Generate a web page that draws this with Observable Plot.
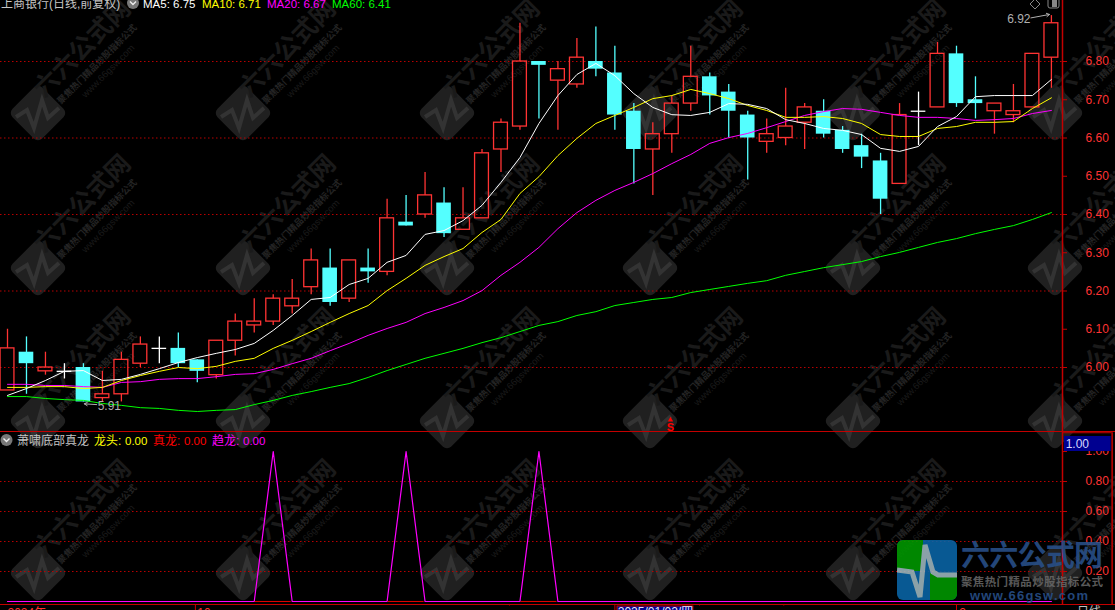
<!DOCTYPE html>
<html lang="zh">
<head>
<meta charset="utf-8">
<title>K线图</title>
<script src="https://cdn.jsdelivr.net/npm/d3@7"></script>
<script src="https://cdn.jsdelivr.net/npm/@observablehq/plot@0.6"></script>
<style>
html,body{margin:0;padding:0;background:#000;overflow:hidden}
#stage{position:relative;width:1115px;height:610px;overflow:hidden;background:#000}
#stage svg{position:absolute;left:0;font-family:"Liberation Sans","Noto Sans CJK SC",sans-serif}
#stage svg.plot{shape-rendering:crispEdges;background:transparent}
</style>
</head>
<body>
<div id="stage"></div>
<script>
// ---- Daily bars, oldest first ----
const opens  = [5.94,6.04,5.99,5.99,6.00,5.92,5.93,6.01,6.05,6.05,6.02,5.98,6.07,6.11,6.12,6.16,6.21,6.26,6.18,6.26,6.25,6.38,6.40,6.43,6.36,6.39,6.57,6.63,6.80,6.75,6.74,6.80,6.77,6.67,6.57,6.61,6.69,6.76,6.72,6.66,6.59,6.60,6.64,6.67,6.62,6.58,6.54,6.48,6.67,6.68,6.82,6.70,6.67,6.66,6.68,6.81];
const closes = [6.05,6.01,6.00,5.99,5.91,5.93,6.02,6.06,6.05,6.01,5.99,6.07,6.12,6.12,6.18,6.18,6.28,6.17,6.28,6.25,6.39,6.37,6.45,6.35,6.39,6.56,6.64,6.80,6.79,6.78,6.81,6.78,6.66,6.57,6.61,6.69,6.76,6.71,6.67,6.60,6.61,6.63,6.68,6.61,6.57,6.55,6.44,6.66,6.67,6.82,6.69,6.69,6.69,6.67,6.82,6.90];
const highs  = [6.10,6.08,6.04,6.01,6.01,5.99,6.04,6.08,6.08,6.09,6.02,6.07,6.14,6.18,6.19,6.23,6.31,6.31,6.28,6.31,6.44,6.45,6.51,6.47,6.47,6.57,6.65,6.90,6.80,6.80,6.86,6.89,6.84,6.69,6.64,6.71,6.84,6.77,6.74,6.67,6.65,6.73,6.69,6.70,6.63,6.61,6.56,6.69,6.72,6.85,6.84,6.76,6.69,6.74,6.82,6.92];
const lows   = [5.94,5.93,5.98,5.97,5.91,5.91,5.91,6.00,6.01,6.00,5.96,5.97,6.03,6.09,6.11,6.14,6.19,6.16,6.17,6.22,6.24,6.37,6.39,6.34,6.36,6.39,6.51,6.62,6.65,6.62,6.73,6.76,6.62,6.48,6.45,6.56,6.67,6.66,6.60,6.49,6.56,6.58,6.57,6.60,6.56,6.52,6.40,6.48,6.58,6.68,6.68,6.65,6.61,6.64,6.68,6.73];

// ---- Moving averages ----
const ma5  = [5.927,5.945,5.966,5.990,5.992,5.966,5.969,5.982,5.997,6.013,6.026,6.037,6.047,6.063,6.097,6.136,6.178,6.183,6.217,6.233,6.275,6.293,6.348,6.358,6.384,6.424,6.484,6.549,6.638,6.711,6.766,6.795,6.763,6.716,6.680,6.661,6.659,6.667,6.690,6.688,6.677,6.648,6.638,6.625,6.620,6.609,6.573,6.565,6.578,6.630,6.656,6.708,6.711,6.711,6.711,6.753];
const ma10 = [5.948,5.948,5.950,5.950,5.945,5.948,5.966,5.979,5.990,6.000,5.997,6.003,6.016,6.024,6.050,6.071,6.094,6.118,6.141,6.162,6.201,6.233,6.267,6.290,6.311,6.353,6.387,6.455,6.499,6.554,6.599,6.638,6.659,6.680,6.703,6.711,6.727,6.716,6.703,6.685,6.672,6.654,6.654,6.656,6.651,6.638,6.609,6.604,6.604,6.625,6.630,6.641,6.641,6.643,6.677,6.705];
const ma20 = [5.956,5.956,5.953,5.953,5.950,5.948,5.961,5.963,5.969,5.971,5.971,5.976,5.982,5.984,5.995,6.010,6.024,6.044,6.063,6.084,6.102,6.118,6.141,6.157,6.175,6.201,6.241,6.275,6.314,6.363,6.405,6.437,6.463,6.484,6.507,6.533,6.557,6.586,6.601,6.612,6.627,6.643,6.659,6.669,6.677,6.675,6.667,6.659,6.654,6.654,6.651,6.646,6.648,6.651,6.664,6.672];
const ma60 = [5.924,5.924,5.919,5.916,5.914,5.906,5.901,5.895,5.893,5.888,5.885,5.888,5.890,5.903,5.914,5.927,5.937,5.948,5.958,5.974,5.992,6.008,6.024,6.037,6.050,6.065,6.078,6.094,6.110,6.120,6.136,6.146,6.162,6.170,6.178,6.183,6.196,6.204,6.212,6.220,6.227,6.241,6.251,6.261,6.269,6.277,6.290,6.301,6.314,6.327,6.337,6.350,6.361,6.371,6.387,6.405];

// ---- Indicator (0/1 signal) ----
const signal = [0,0,0,0,0,0,0,0,0,0,0,0,0,0,1,0,0,0,0,0,0,1,0,0,0,0,0,0,1,0,0,0,0,0,0,0,0,0,0,0,0,0,0,0,0,0,0,0,0,0,0,0,0,0,0,0];
const signalBars = [14,21,28];

// ---- Axis and text ----
const priceTicks = [6.0,6.1,6.2,6.3,6.4,6.5,6.6,6.7,6.8];
const priceGrid  = [6.0,6.2,6.4,6.6,6.8];
const indTicks   = [0.2,0.4,0.6,0.8,1.0];
const indGrid    = [0.2,0.4,0.6,0.8];
const maLegend = [["MA5: 6.75","#ffffff",143],["MA10: 6.71","#ffff00",202],["MA20: 6.67","#ff00ff",267],["MA60: 6.41","#00ff00",332]];
const indLegend = [["龙头:","#ffff00",94],["0.00","#ffff00",125],["真龙:","#ff0000",153],["0.00","#ff0000",184],["趋龙:","#ff00ff",212],["0.00","#ff00ff",243]];
const highLabel = "6.92", lowLabel = "5.91";

const RED="#ff3333", CYAN="#54ffff", DARK="#c40000", GRID="#b80000";
const bars = opens.map((o,i)=>({i,o,c:closes[i],h:highs[i],l:lows[i]}));
const ups = bars.filter(d=>d.c>d.o), downs = bars.filter(d=>d.c<d.o), flats = bars.filter(d=>d.c===d.o);
const HALF=0.385, xDomain=[-0.369,55.585], SW=1.3;

const top_ = Plot.plot({
  width:1115,height:431,marginLeft:0,marginRight:53,marginTop:0,marginBottom:0,
  x:{domain:xDomain,axis:null},
  y:{domain:[5.8327,6.9595]},
  marks:[
    Plot.ruleY(priceGrid,{x1:xDomain[0],x2:xDomain[1],stroke:GRID,strokeWidth:1.1,strokeDasharray:"1.5,2.5"}),
    // wicks
    Plot.ruleX(ups,{x:"i",y1:"c",y2:"h",stroke:RED,strokeWidth:SW}),
    Plot.ruleX(ups,{x:"i",y1:"o",y2:"l",stroke:RED,strokeWidth:SW}),
    Plot.ruleX(downs,{x:"i",y1:"l",y2:"h",stroke:CYAN,strokeWidth:SW}),
    Plot.ruleX(flats,{x:"i",y1:"l",y2:"h",stroke:"#fff",strokeWidth:SW}),
    // bodies
    Plot.rect(ups,{x1:d=>d.i-HALF+0.02,x2:d=>d.i+HALF-0.02,y1:"o",y2:"c",fill:"none",stroke:RED,strokeWidth:SW}),
    Plot.rect(downs,{x1:d=>d.i-HALF,x2:d=>d.i+HALF,y1:"o",y2:"c",fill:CYAN}),
    Plot.ruleY(flats,{y:"c",x1:d=>d.i-HALF,x2:d=>d.i+HALF,stroke:"#fff",strokeWidth:SW}),
    // moving averages
    Plot.line(ma60,{x:(d,i)=>i,y:d=>d,stroke:"#00ff00",strokeWidth:1}),
    Plot.line(ma20,{x:(d,i)=>i,y:d=>d,stroke:"#ff00ff",strokeWidth:1}),
    Plot.line(ma10,{x:(d,i)=>i,y:d=>d,stroke:"#ffff00",strokeWidth:1}),
    Plot.line(ma5,{x:(d,i)=>i,y:d=>d,stroke:"#ffffff",strokeWidth:1}),
    // extremes
    Plot.text([highLabel],{x:53.9,y:6.912,text:d=>d,textAnchor:"end",fill:"#b0b0b0",fontSize:12}),
    Plot.arrow([0],{x1:53.92,y1:6.914,x2:54.9,y2:6.923,stroke:"#b0b0b0",strokeWidth:1,headLength:5,bend:0}),
    Plot.text([lowLabel],{x:4.75,y:5.90,text:d=>d,textAnchor:"start",fill:"#b0b0b0",fontSize:12}),
    Plot.arrow([0],{x1:4.7,y1:5.903,x2:4.05,y2:5.905,stroke:"#b0b0b0",strokeWidth:1,headLength:5,bend:0}),
    // sell mark
    Plot.text(["S"],{x:34.93,y:5.843,text:d=>d,fill:"#ff0000",fontSize:11,fontWeight:"bold"}),
    Plot.dot([0],{x:34.93,y:5.863,r:2,symbol:"triangle",fill:"#ff0000"}),
    // axis
    Plot.ruleX([xDomain[1]],{y1:5.8327,y2:6.9595,stroke:DARK,strokeWidth:1.5}),
    Plot.axisY({anchor:"right",ticks:priceTicks,tickFormat:".2f",tickSize:4,tickPadding:19,label:null,fontSize:12,stroke:DARK,fill:RED})
  ]
});
top_.style.top="0px";

const fullX=[-0.369,58.38];
const lower = Plot.plot({
  width:1115,height:179,marginLeft:0,marginRight:53,marginTop:0,marginBottom:0,
  x:{domain:xDomain,axis:null},
  y:{domain:[-0.06,1.1333]},
  marks:[
    Plot.ruleY(indGrid,{x1:xDomain[0],x2:xDomain[1],stroke:GRID,strokeWidth:1.1,strokeDasharray:"1.5,2.5"}),
    Plot.line(signal,{x:(d,i)=>i,y:d=>d,stroke:"#ff00ff",strokeWidth:1.2}),
    signalBars.map(b=>Plot.ruleY([0],{x1:b-0.95,x2:b+0.95,stroke:"#e00000"})),
    // frame
    Plot.ruleY([1.1333],{x1:fullX[0],x2:fullX[1],stroke:DARK}),
    Plot.ruleY([1.125],{x1:xDomain[1],x2:58.2,stroke:DARK}),
    Plot.ruleY([-0.02],{x1:fullX[0],x2:fullX[1],stroke:DARK,strokeWidth:1.2}),
    Plot.ruleX([xDomain[1]],{y1:-0.02,y2:1.1333,stroke:DARK,strokeWidth:1.5}),
    Plot.ruleX([58.2],{y1:-0.02,y2:1.125,stroke:DARK,strokeWidth:1.5}),
    Plot.axisY({anchor:"right",ticks:indTicks,tickFormat:".2f",tickSize:4,tickPadding:19,label:null,fontSize:12,stroke:DARK,fill:RED}),
    // current-value box
    Plot.rect([0],{x1:55.69,x2:58.15,y1:1.0,y2:1.1,fill:"#000090"}),
    Plot.text(["1.00"],{x:55.75,y:1.05,text:d=>d,textAnchor:"start",fill:"#d8d8ff",fontSize:12}),
    // date row
    Plot.ruleX([9.9,50,32.0],{y1:-0.06,y2:-0.02,stroke:DARK}),
    Plot.ruleX([26.45,36.46,40.9],{y1:-0.03,y2:-0.02,stroke:DARK}),
    Plot.text(["2024年"],{x:0,y:-0.075,text:d=>d,textAnchor:"start",fill:RED,fontSize:12}),
    Plot.text(["10"],{x:10,y:-0.075,text:d=>d,textAnchor:"start",fill:RED,fontSize:12}),
    Plot.text(["2"],{x:50.15,y:-0.075,text:d=>d,textAnchor:"start",fill:RED,fontSize:12}),
    Plot.rect([0],{x1:32.14,x2:36.14,y1:-0.033,y2:-0.1,fill:"#000090",stroke:DARK}),
    Plot.text(["2025/01/02/四"],{x:34.14,y:-0.072,text:d=>d,fill:"#e8e8ff",fontSize:12}),
    Plot.text(["日线"],{x:56.35,y:-0.072,text:d=>d,textAnchor:"start",fill:"#c0c0c0",fontSize:12})
  ]
});
lower.style.top="431px";

// ---- Watermark layer, behind the chart ----
const stage = d3.select("#stage");
const wm = stage.append("svg").attr("width",1115).attr("height",610).style("top","0px");
const cols=[38,243,447,650,853,1055], rows=[113,268,421,573];
for(const cy of rows) for(const cx of cols){
  const g=wm.append("g").attr("transform",`translate(${cx},${cy})`);
  g.append("rect").attr("x",-21).attr("y",-21).attr("width",42).attr("height",42).attr("rx",6)
    .attr("transform","rotate(45)").attr("fill","#202020");
  g.append("path").attr("d","M-22,4L-11,-3L-4,15L4,-13L10,5L21,-5").attr("fill","none").attr("stroke","#333").attr("stroke-width",4);
  g.append("text").attr("transform","translate(44,-65) rotate(-45)").attr("text-anchor","middle").attr("dy","0.35em")
    .attr("font-size",25).attr("font-weight",700).attr("fill","#1a1a1a").text("六六公式网");
  g.append("text").attr("transform","translate(59,-49) rotate(-45)").attr("text-anchor","middle").attr("dy","0.35em")
    .attr("font-size",9).attr("font-weight",700).attr("fill","#242424").text("聚焦热门精品炒股指标公式");
  g.append("text").attr("transform","translate(70,-42) rotate(-45)").attr("text-anchor","middle").attr("dy","0.35em")
    .attr("font-size",9.5).attr("fill","#1a1a1a").text("www.66gsw.com");
}
stage.node().append(top_, lower);

// ---- Header text, icons, site logo ----
const ov = stage.append("svg").attr("width",1115).attr("height",610).style("top","0px").style("pointer-events","none");
function chevron(x,y){
  ov.append("circle").attr("cx",x).attr("cy",y).attr("r",6).attr("fill","#777");
  ov.append("path").attr("d",`M${x-3},${y-1.5}L${x},${y+1.5}L${x+3},${y-1.5}`).attr("fill","none").attr("stroke","#eee").attr("stroke-width",1.4);
}
ov.append("text").attr("x",1).attr("y",8).attr("font-size",12).attr("fill","#c4c4c4").text("上商银行(日线,前复权)");
chevron(133,3);
maLegend.forEach(([t,c,x])=>ov.append("text").attr("x",x).attr("y",8).attr("font-size",11.5).attr("fill",c).text(t));
chevron(6.5,440);
ov.append("text").attr("x",17).attr("y",444.5).attr("font-size",12).attr("fill","#c4c4c4").text("萧啸底部真龙");
indLegend.forEach(([t,c,x])=>ov.append("text").attr("x",x).attr("y",444.5).attr("font-size",t.length>3?11.5:12).attr("fill",c).text(t));
ov.append("path").attr("d","M1035,-1L1040,4L1035,9L1030,4Z").attr("fill","none").attr("stroke","#888");
ov.append("rect").attr("x",1048).attr("y",-3).attr("width",11).attr("height",11).attr("rx",2).attr("fill","none").attr("stroke","#888");
ov.append("rect").attr("x",1052).attr("y",-2).attr("width",5).attr("height",9).attr("fill","#888");

const logo = ov.append("g").attr("opacity",0.88);
const clip = ov.append("clipPath").attr("id","lg");
clip.append("rect").attr("x",897).attr("y",540).attr("width",60).attr("height",60).attr("rx",6);
const lc = logo.append("g").attr("clip-path","url(#lg)");
lc.append("rect").attr("x",897).attr("y",540).attr("width",60).attr("height",60).attr("fill","#0a66a8");
lc.append("rect").attr("x",897).attr("y",540).attr("width",26).attr("height",31).attr("fill","#009a00");
lc.append("rect").attr("x",930).attr("y",573).attr("width",27).attr("height",27).attr("fill","#009a00");
lc.append("path").attr("d","M897,570L912,572L920,597L925,545L933,572L938,575L957,575").attr("fill","none").attr("stroke","#9fb8c0").attr("stroke-width",5);
logo.append("text").attr("x",961).attr("y",566).attr("font-size",29).attr("font-weight",700).attr("fill","#28508a").attr("textLength",142).text("六六公式网");
logo.append("text").attr("x",961).attr("y",585.5).attr("font-size",11.5).attr("font-weight",700).attr("fill","#666").attr("textLength",142).text("聚焦热门精品炒股指标公式");
logo.append("text").attr("x",970).attr("y",600).attr("font-size",13).attr("font-weight",700).attr("fill","#28508a").attr("textLength",118).text("www.66gsw.com");
</script>
</body>
</html>
